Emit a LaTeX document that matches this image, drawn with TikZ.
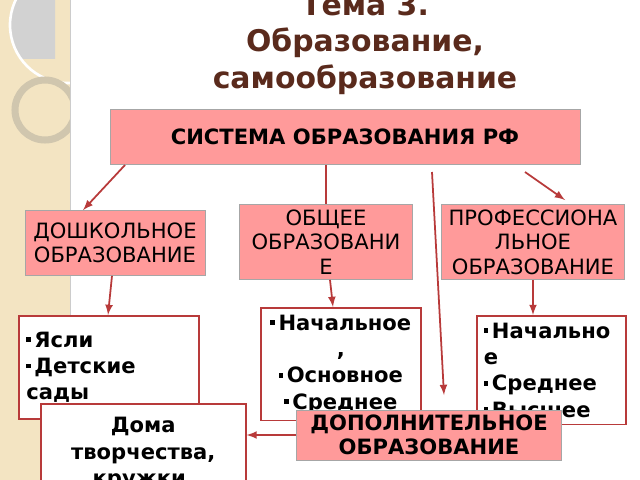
\documentclass[tikz,border=0pt]{standalone}
\usepackage{fontspec}
\setmainfont{DejaVu Sans}
\usetikzlibrary{positioning}
\definecolor{strip}{HTML}{F3E4C2}
\definecolor{pinkbox}{HTML}{FF9A9A}
\definecolor{darkred}{HTML}{B83A3A}
\definecolor{brownt}{HTML}{5A2A1C}
\tikzset{
  pinkbox/.style={draw=gray!70, fill=pinkbox, align=center, inner sep=2pt},
  whitebox/.style={draw=darkred, line width=0.9pt, fill=white, align=left, anchor=north west, inner sep=4pt},
  link/.style={darkred, line width=1pt, -latex}
}
\newcommand{\bul}{\rule[0.25em]{0.22em}{0.22em}\,}
\begin{document}
\begin{tikzpicture}[x=0.02cm, y=-0.02cm]
	\useasboundingbox (0,0) rectangle (640,480);
	\fill[white] (0,0) rectangle (640,480);
	% Decorated strip on the left
	\fill[strip] (0,0) rectangle (70,480);
	\begin{scope}
		\clip (0,0) rectangle (70,480);
		\begin{scope}
			\clip (0,0) rectangle (55,58);
			\fill[gray!35] (68,25) circle (58);
		\end{scope}
		\draw[white, line width=1.5pt] (68,25) circle (58);
		\draw[strip!70!gray, line width=4pt] (45,110) circle (30);
	\end{scope}
	\draw[gray!40] (70,0) -- (70,480);
	% Title
	\node[text=brownt, font=\bfseries\fontsize{17}{21}\selectfont, align=center] (title) at (365,44)
		{Тема 3.\\Образование,\\самообразование};
	% Top level
	\node[pinkbox, minimum width=9.4cm, minimum height=1.1cm, font=\bfseries\fontsize{12}{14}\selectfont] (sys) at (345,137) {СИСТЕМА ОБРАЗОВАНИЯ РФ};
	\node[pinkbox, minimum width=3.6cm, minimum height=1.3cm, font=\fontsize{12}{14}\selectfont] (pre) at (115,243) {ДОШКОЛЬНОЕ\\ОБРАЗОВАНИЕ};
	\node[pinkbox, minimum width=3.45cm, minimum height=1.5cm, text width=3.2cm, font=\fontsize{12}{14}\selectfont] (gen) at (326,242) {ОБЩЕЕ ОБРАЗОВАНИ Е};
	\node[pinkbox, minimum width=3.65cm, minimum height=1.5cm, text width=3.4cm, font=\fontsize{12}{14}\selectfont] (pro) at (533,242) {ПРОФЕССИОНА ЛЬНОЕ ОБРАЗОВАНИЕ};
	% Lists
	\node[whitebox, minimum width=3.6cm, minimum height=2.06cm, text width=3.3cm, font=\bfseries\fontsize{12}{15}\selectfont] (kids) at (18,315)
		{\bul Ясли\\\bul Детские\\сады};
	\node[whitebox, minimum width=3.2cm, minimum height=2.22cm, text width=2.9cm, align=center, font=\bfseries\fontsize{12}{15}\selectfont] (school) at (260,307)
		{\bul Начальное\\,\\\bul Основное\\\bul Среднее};
	\node[whitebox, minimum width=2.98cm, minimum height=2.16cm, text width=2.7cm, font=\bfseries\fontsize{12}{15}\selectfont] (prof) at (476,315)
		{\bul Начально\\е\\\bul Среднее\\\bul Высшее};
	\node[whitebox, minimum width=4.1cm, minimum height=2.0cm, text width=3.8cm, align=center, font=\bfseries\fontsize{12}{15}\selectfont] (clubs) at (40,403)
		{Дома\\творчества,\\кружки,};
	\node[pinkbox, minimum width=5.3cm, minimum height=1.0cm, font=\bfseries\fontsize{12}{14}\selectfont] (add) at (429,435) {ДОПОЛНИТЕЛЬНОЕ\\ОБРАЗОВАНИЕ};
	% Connectors
	\coordinate (s1) at (125,165);
	\coordinate (s3) at (525,172);
	\coordinate (s4) at (432,172);
	\draw[link] (s1) -- (pre.north -| 83,0);
	\draw[darkred, line width=1pt] (sys.south -| gen) -- (gen.north);
	\draw[link] (s3) -- (565,200);
	\draw[link] (s4) -- (444,395);
	\draw[link] (pre.south -| 112,0) -- (kids.north -| 108,0);
	\draw[link] (gen.south -| 330,0) -- (school.north -| 333,0);
	\draw[link] (pro.south) -- (prof.north -| pro.south);
	\draw[link] (add.west) -- (clubs.east |- add.west);
\end{tikzpicture}
\end{document}
